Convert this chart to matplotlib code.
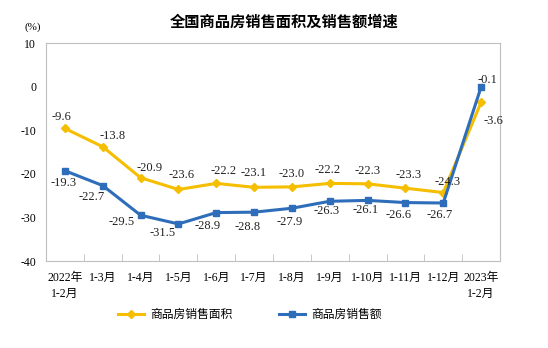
import matplotlib
matplotlib.use("Agg")
import matplotlib.pyplot as plt
from matplotlib.ticker import FixedLocator

plt.rcParams['font.family'] = ['Liberation Serif', 'Noto Sans CJK SC']

categories = ["2022年\n1-2月", "1-3月", "1-4月", "1-5月", "1-6月", "1-7月", "1-8月",
              "1-9月", "1-10月", "1-11月", "1-12月", "2023年\n1-2月"]
area = [-9.6, -13.8, -20.9, -23.6, -22.2, -23.1, -23.0, -22.2, -22.3, -23.3, -24.3, -3.6]
sales = [-19.3, -22.7, -29.5, -31.5, -28.9, -28.8, -27.9, -26.3, -26.1, -26.6, -26.7, -0.1]
yticks = [10, 0, -10, -20, -30, -40]
series_names = ["商品房销售面积", "商品房销售额"]
title = "全国商品房销售面积及销售额增速"

# label offsets in pixels (style only)
area_off = [(-3, 11), (10, 11), (9, 10), (3, 14), (7, 12), (0, 14), (0, 13), (-2, 13),
            (0, 13), (3, 13), (4, 11), (12, -19)]
sales_off = [(-1, -12), (-11, -11), (-19, -7), (-16, -9), (-9, -13), (-6, -15), (-2, -14),
             (-3, -10), (-2, -10), (-7, -12), (-4, -12), (6, 7)]

yellow = "#F5BE00"
blue = "#2E6DB9"

fig = plt.figure(figsize=(5.48, 3.48), dpi=100)
ax = fig.add_axes([46/548, 1-261/348, (500-46)/548, (261-43)/348])

x = list(range(len(categories)))
l1, = ax.plot(x, area, color=yellow, lw=2.2, marker='D', ms=3.8, label=series_names[0])
l2, = ax.plot(x, sales, color=blue, lw=2.2, marker='s', ms=3.8, label=series_names[1])

for i, v in enumerate(area):
    ax.annotate(f"{v:.1f}", (i, v), xytext=area_off[i], textcoords='offset pixels',
                ha='center', va='center', fontsize=9, color='#222222')
for i, v in enumerate(sales):
    ax.annotate(f"{v:.1f}", (i, v), xytext=sales_off[i], textcoords='offset pixels',
                ha='center', va='center', fontsize=9, color='#222222')

ax.set_xlim(-0.5, len(categories) - 0.5)
ax.set_ylim(-40, 10)
ax.set_yticks(yticks)
ax.set_yticklabels([str(t) for t in yticks], fontsize=8.5)
ax.tick_params(axis='y', length=0, pad=7)
ax.set_xticks(x)
ax.set_xticklabels(categories, fontsize=8.5, linespacing=1.4)
ax.tick_params(axis='x', length=0, pad=8)
ax.xaxis.set_minor_locator(FixedLocator([i + 0.5 for i in x[:-1]]))
ax.tick_params(axis='x', which='minor', direction='in', length=5, color='#BFBFBF')
for s in ax.spines.values():
    s.set_color('#BFBFBF')
    s.set_linewidth(0.8)

fig.text(284/548, 1-22/348, title, ha='center', va='center', fontsize=11,
         fontweight='bold', family=['Noto Sans CJK SC'])
fig.text(33/548, 1-27/348, "(%)", ha='center', va='center', fontsize=8)

fig.legend(handles=[l1, l2], loc='center', bbox_to_anchor=(250/548, 1-315/348), ncol=2,
           frameon=False, fontsize=8.5, columnspacing=4, handlelength=2.2, handletextpad=0.5)

fig.savefig("out.png", dpi=100)
